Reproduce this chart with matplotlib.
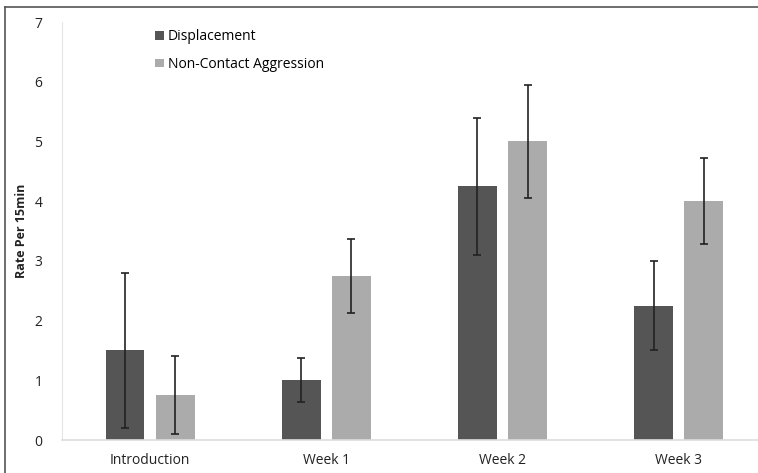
import matplotlib
matplotlib.use("Agg")
import matplotlib.pyplot as plt
import numpy as np

categories = ["Introduction", "Week 1", "Week 2", "Week 3"]
displacement = [1.5, 1.0, 4.25, 2.25]
displacement_err = [1.3, 0.37, 1.15, 0.75]
nca = [0.75, 2.75, 5.0, 4.0]
nca_err = [0.65, 0.62, 0.95, 0.72]
yticks = [0, 1, 2, 3, 4, 5, 6, 7]

W, H = 758, 473
fig = plt.figure(figsize=(W / 100, H / 100), dpi=100)
plt.rcParams['font.family'] = ['Open Sans', 'DejaVu Sans']

ax = fig.add_axes([62 / W, 1 - 440 / H, (758 - 62) / W, (440 - 22) / H])
x = np.arange(len(categories))
bw = 0.22
off = 0.142
ax.bar(x - off, displacement, bw, color="#555555", label="Displacement", zorder=2)
ax.bar(x + off, nca, bw, color="#ababab", label="Non-Contact Aggression", zorder=2)
ax.errorbar(x - off, displacement, yerr=displacement_err, fmt="none", ecolor="#222222",
            elinewidth=1.2, capsize=3, capthick=1.2, zorder=3)
ax.errorbar(x + off, nca, yerr=nca_err, fmt="none", ecolor="#222222",
            elinewidth=1.2, capsize=3, capthick=1.2, zorder=3)

ax.set_xlim(-0.5, 3.45)
ax.set_ylim(0, 7)
ax.set_yticks(yticks)
ax.set_xticks(x)
ax.set_xticklabels(categories, fontsize=10)
ax.tick_params(axis="both", length=0, labelsize=10, colors="#222222")
ax.tick_params(axis="y", pad=14)
ax.tick_params(axis="x", pad=9)
for s in ["top", "right"]:
    ax.spines[s].set_visible(False)
ax.spines["left"].set_color("#e6e6e6")
ax.spines["bottom"].set_color("#dddddd")
ax.spines["bottom"].set_linewidth(1.2)
ax.set_ylabel("Rate Per 15min", fontsize=9, fontweight="bold", labelpad=5, color="#222222")

leg = ax.legend(loc="upper left", bbox_to_anchor=(0.116, 1.012), frameon=False, fontsize=10,
                handlelength=0.6, handleheight=0.6, handletextpad=0.3, labelspacing=0.9)

# outer frame (top and left border of the image)
fig.add_artist(plt.Line2D([5 / W, 1], [1 - 7 / H, 1 - 7 / H], transform=fig.transFigure,
                          color="#555555", lw=1.2))
fig.add_artist(plt.Line2D([5 / W, 5 / W], [0, 1 - 7 / H], transform=fig.transFigure,
                          color="#555555", lw=1.2))

fig.savefig("out.png", dpi=100)
